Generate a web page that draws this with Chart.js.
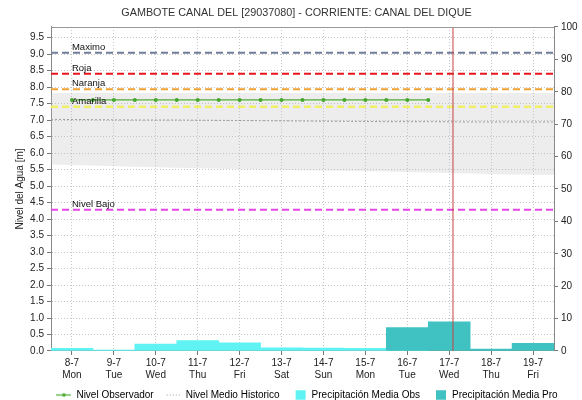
<!DOCTYPE html>
<html><head><meta charset="utf-8">
<script src="https://cdn.jsdelivr.net/npm/chart.js@4/dist/chart.umd.min.js"></script>
<style>html,body{margin:0;padding:0;background:#fff;overflow:hidden}#wrap{width:582px;height:400px;position:relative}</style>
</head><body><div id="wrap"><canvas id="c"></canvas></div>
<script>
// ---- data ----
const days = ['8-7','9-7','10-7','11-7','12-7','13-7','14-7','15-7','16-7','17-7','18-7','19-7'];
const weekdays = ['Mon','Tue','Wed','Thu','Fri','Sat','Sun','Mon','Tue','Wed','Thu','Fri'];
// observed level every 12 h (day index)
const obsTimes = [0,0.5,1,1.5,2,2.5,3,3.5,4,4.5,5,5.5,6,6.5,7,7.5,8,8.5];
const obsLevel = [7.61,7.61,7.61,7.61,7.61,7.61,7.61,7.61,7.61,7.61,7.61,7.61,7.61,7.61,7.61,7.61,7.61,7.61];
// precipitation (right axis)
const precipObs = [0.8,0.3,2.1,3.2,2.5,1.0,0.9,0.8,0.5,null,null,null];
const precipPro = [null,null,null,null,null,null,null,null,7.2,9.0,0.6,2.4];
// historic band and mean (day-edge positions)
const bandX = [-0.5,0.5,1.5,2.5,3.5,4.5,5.5,6.5,7.5,8.5,9.5,10.5,11.5];
const bandUpper = [7.82,7.82,7.82,7.82,7.82,7.82,7.82,7.82,7.82,7.82,7.82,7.82,7.82];
const bandLower = [5.65,5.62,5.58,5.55,5.52,5.5,5.48,5.46,5.44,5.41,5.38,5.35,5.33];
const histMean = [7.02,7.01,7.0,7.0,6.99,6.98,6.97,6.96,6.95,6.95,6.94,6.94,6.94];
// alert thresholds
const thresholdNames = ['Maximo','Roja','Naranja','Amarilla','Nivel Bajo'];
const thresholdValues = [9.04,8.40,7.93,7.40,4.28];
const currentTime = 9.09;
const yMax = 9.82;

// ---- styles ----
const thresholdColors = {Maximo:'#6F7C99',Roja:'#E8161C',Naranja:'#F2A234',Amarilla:'#F0F068','Nivel Bajo':'#E646E6'};
const FONT = 'Liberation Sans, Arial, sans-serif';

function icon(kind){
  const c=document.createElement('canvas'); c.width=15; c.height=11;
  const g=c.getContext('2d');
  if(kind==='obs'){
    g.strokeStyle='#4FAE35'; g.lineWidth=1.2; g.beginPath(); g.moveTo(0,5.5); g.lineTo(15,5.5); g.stroke();
    g.fillStyle='#45A82C'; g.beginPath(); g.arc(7.5,5.5,1.8,0,Math.PI*2); g.fill();
  } else if(kind==='mean'){
    g.fillStyle='#9C9C9C'; for(let x=1;x<15;x+=3){ g.fillRect(x,5,1,1); }
  } else {
    g.fillStyle=kind; g.fillRect(4,0.5,10,10);
  }
  return c;
}

const lineDefaults = {type:'line', pointRadius:0, pointHoverRadius:0, yAxisID:'y', fill:false};
const datasets = [
  {type:'line', label:'Nivel Observador', data: obsTimes.map((t,i)=>({x:t,y:obsLevel[i]})),
   borderColor:'#4FAE35', backgroundColor:'#45A82C', borderWidth:1.3, pointRadius:2, pointBorderWidth:0,
   pointBackgroundColor:'#45A82C', yAxisID:'y', order:1, fill:false},
  {...lineDefaults, label:'Nivel Medio Historico', data: bandX.map((x,i)=>({x,y:histMean[i]})),
   borderColor:'#9C9C9C', borderDash:[2,2], borderWidth:1, order:4},
  {type:'bar', label:'Precipitación Media Obs', data: days.map((d,i)=>({x:i,y:precipObs[i]})),
   backgroundColor:'#5FF3F3', yAxisID:'y1', grouped:false, barPercentage:1, categoryPercentage:1, borderWidth:0, order:7},
  {type:'bar', label:'Precipitación Media Pro', data: days.map((d,i)=>({x:i,y:precipPro[i]})),
   backgroundColor:'#40C2C2', yAxisID:'y1', grouped:false, barPercentage:1, categoryPercentage:1, borderWidth:0, order:6},
  {...lineDefaults, label:'bandUpper', data: bandX.map((x,i)=>({x,y:bandUpper[i]})), borderWidth:0,
   borderColor:'rgba(0,0,0,0)', fill:'+1', backgroundColor:'rgba(185,185,185,0.26)', order:10},
  {...lineDefaults, label:'bandLower', data: bandX.map((x,i)=>({x,y:bandLower[i]})), borderWidth:0,
   borderColor:'rgba(0,0,0,0)', order:11},
];
thresholdNames.forEach((n,i)=>{
  datasets.push({...lineDefaults, label:n, data:[{x:-0.5,y:thresholdValues[i]},{x:11.5,y:thresholdValues[i]}],
    borderColor:thresholdColors[n], borderWidth: n==='Amarilla'?2.5:2, borderDash:[7,4], order:3});
});
datasets.push({...lineDefaults, label:'ahora', data:[{x:currentTime,y:0},{x:currentTime,y:yMax}],
  borderColor:'#C84040', borderWidth:1, order:2});

const legendIcons = [icon('obs'), icon('mean'), icon('#5FF3F3'), icon('#40C2C2')];

const extras = {
  id:'extras',
  afterLayout(chart){
    if(chart.legend){ chart.legend.left = 32; }
    if(chart.titleBlock){ chart.titleBlock.left = 11; }
  },
  afterDatasetsDraw(chart){
    const {ctx, chartArea:a, scales:{x,y}} = chart;
    ctx.save();
    ctx.font = '9.5px '+FONT; ctx.fillStyle='#111'; ctx.textBaseline='alphabetic'; ctx.textAlign='left';
    thresholdNames.forEach((n,i)=>{
      ctx.fillText(n, x.getPixelForValue(0), y.getPixelForValue(thresholdValues[i]) - 3);
    });
    ctx.strokeStyle='#999'; ctx.lineWidth=1;
    ctx.beginPath(); ctx.moveTo(a.left, Math.round(a.top)+0.5); ctx.lineTo(a.right, Math.round(a.top)+0.5); ctx.stroke();
    ctx.restore();
  }
};

new Chart(document.getElementById('c'), {
  type:'bar',
  data:{datasets},
  plugins:[extras],
  options:{
    responsive:true, maintainAspectRatio:false, animation:false,
    layout:{padding:0},
    plugins:{
      tooltip:{enabled:false},
      title:{display:true, text:'GAMBOTE CANAL DEL [29037080] - CORRIENTE: CANAL DEL DIQUE',
        color:'#333', font:{family:FONT, size:10.8, weight:'normal'}, padding:{top:7,bottom:7}},
      legend:{position:'bottom', fullSize:true, maxHeight:22,
        labels:{usePointStyle:true, pointStyleWidth:15, padding:12, color:'#222', font:{family:FONT,size:10},
          generateLabels: ()=>[0,1,2,3].map(i=>({text:datasets[i].label, pointStyle:legendIcons[i],
            fillStyle:'#fff', strokeStyle:'rgba(0,0,0,0)', lineWidth:0, hidden:false, datasetIndex:i}))}}
    },
    scales:{
      x:{type:'linear', min:-0.5, max:11.5, offset:false,
        afterBuildTicks:s=>{ s.ticks = days.map((d,i)=>({value:i})); },
        ticks:{autoSkip:false, maxRotation:0, padding:2, color:'#222', font:{family:FONT,size:10},
          callback:(v,i)=>[days[i], weekdays[i]]},
        grid:{offset:false, color:'#C6C6C6', tickColor:'#777', tickLength:4},
        border:{color:'#888', dash:[1,2]},
        afterFit:s=>{ s.height=27; }},
      y:{position:'left', min:0, max:yMax,
        ticks:{stepSize:0.5, includeBounds:false, color:'#222', padding:3, font:{family:FONT,size:10},
          callback:v=>v.toFixed(1)},
        grid:{color:'#C6C6C6', tickColor:'#777', tickLength:4},
        border:{color:'#888', dash:[1,2]},
        title:{display:true, text:'Nivel del Agua [m]', color:'#222', font:{family:FONT,size:10}, padding:{top:14,bottom:0}},
        afterFit:s=>{ s.width=51; }},
      y1:{position:'right', min:0, max:100,
        ticks:{stepSize:10, color:'#222', padding:3, font:{family:FONT,size:10}},
        grid:{drawOnChartArea:false, tickColor:'#777', tickLength:4},
        border:{color:'#888'},
        afterFit:s=>{ s.width=28; }}
    }
  }
});
</script></body></html>
